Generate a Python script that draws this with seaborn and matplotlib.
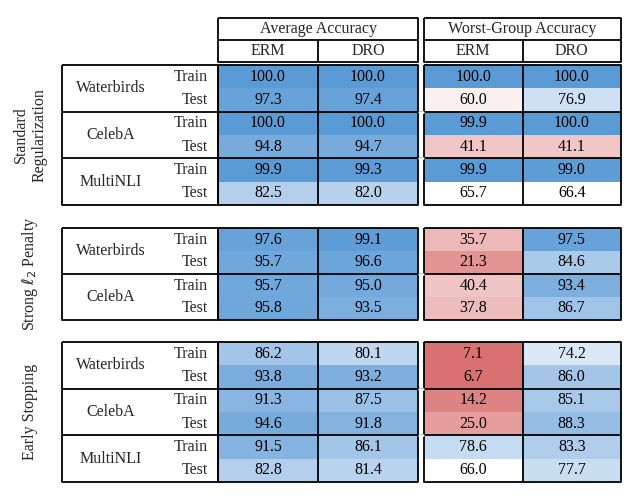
import numpy as np
import matplotlib.pyplot as plt
import seaborn as sns
from matplotlib.colors import LinearSegmentedColormap, Normalize

sns.set_theme(style="white")
plt.rcParams['font.family'] = ['Liberation Serif', 'DejaVu Serif']

# Данные: строки Train/Test, столбцы ERM/DRO
blocks = ["Standard\nRegularization", "Strong $\\ell_2$ Penalty", "Early Stopping"]
datasets = [["Waterbirds", "CelebA", "MultiNLI"],
            ["Waterbirds", "CelebA"],
            ["Waterbirds", "CelebA", "MultiNLI"]]
avg_acc = [
    [[100.0, 100.0], [97.3, 97.4], [100.0, 100.0], [94.8, 94.7], [99.9, 99.3], [82.5, 82.0]],
    [[97.6, 99.1], [95.7, 96.6], [95.7, 95.0], [95.8, 93.5]],
    [[86.2, 80.1], [93.8, 93.2], [91.3, 87.5], [94.6, 91.8], [91.5, 86.1], [82.8, 81.4]],
]
worst_acc = [
    [[100.0, 100.0], [60.0, 76.9], [99.9, 100.0], [41.1, 41.1], [99.9, 99.0], [65.7, 66.4]],
    [[35.7, 97.5], [21.3, 84.6], [40.4, 93.4], [37.8, 86.7]],
    [[7.1, 74.2], [6.7, 86.0], [14.2, 85.1], [25.0, 88.3], [78.6, 83.3], [66.0, 77.7]],
]

cmap = LinearSegmentedColormap.from_list(
    "rb", [(0, "#d3605e"), (0.4, "#efc3c3"), (0.66, "#ffffff"), (0.85, "#a9c9ea"), (1.0, "#5b9bd5")])
norm = Normalize(0, 100)

W, H = 643, 500
fig = plt.figure(figsize=(6.43, 5.0), dpi=100)

def px_axes(x0, y0, x1, y1):
    return fig.add_axes([x0 / W, 1 - y1 / H, (x1 - x0) / W, (y1 - y0) / H])

block_y = [(65, 205), (228, 320), (342, 482)]
cols = [(218, 418), (424, 621)]

for b, (y0, y1) in enumerate(block_y):
    for (x0, x1), vals in zip(cols, [avg_acc[b], worst_acc[b]]):
        ax = px_axes(x0, y0, x1, y1)
        sns.heatmap(np.array(vals), ax=ax, cmap=cmap, norm=norm, cbar=False,
                    annot=True, fmt=".1f", annot_kws={"color": "black", "fontsize": 11.5})
        ax.set_xticks([]); ax.set_yticks([])

ov = fig.add_axes([0, 0, 1, 1], zorder=10)
ov.set_xlim(0, W); ov.set_ylim(H, 0); ov.axis("off"); ov.patch.set_alpha(0)
lw = 1.3
def line(xs, ys):
    ov.plot(xs, ys, color="black", lw=lw, solid_capstyle="butt")

# Шапка
for x0, x1 in cols:
    line([x0, x1, x1, x0, x0], [18, 18, 62, 62, 18])
    line([x0, x1], [40, 40])
    xm = (x0 + x1) / 2
    line([xm, xm], [40, 62])
    ov.text((x0 + xm) / 2, 51, "ERM", ha="center", va="center", fontsize=11.5)
    ov.text((xm + x1) / 2, 51, "DRO", ha="center", va="center", fontsize=11.5)
ov.text(318, 29, "Average Accuracy", ha="center", va="center", fontsize=11.5)
ov.text(522, 29, "Worst-Group Accuracy", ha="center", va="center", fontsize=11.5)

# Блоки
for b, (y0, y1) in enumerate(block_y):
    n = len(datasets[b])
    rh = (y1 - y0) / n
    for x0, x1 in cols:
        line([x0, x1, x1, x0, x0], [y0, y0, y1, y1, y0])
        xm = (x0 + x1) / 2
        line([xm, xm], [y0, y1])
    line([62, 218, 218, 62, 62], [y0, y0, y1, y1, y0])
    for i, name in enumerate(datasets[b]):
        ya = y0 + i * rh
        if i > 0:
            line([62, 621], [ya, ya])
            # не рисовать линию через промежуток
            ov.plot([418.8, 423.2], [ya, ya], color="white", lw=lw + 0.5)
        ov.text(111, ya + rh / 2, name, ha="center", va="center", fontsize=11.5)
        ov.text(208, ya + rh / 4, "Train", ha="right", va="center", fontsize=11.5)
        ov.text(208, ya + 3 * rh / 4, "Test", ha="right", va="center", fontsize=11.5)
    ov.text(30, (y0 + y1) / 2, blocks[b], rotation=90, ha="center", va="center",
            fontsize=11.5, linespacing=1.2)

fig.savefig("out.png", dpi=100)
